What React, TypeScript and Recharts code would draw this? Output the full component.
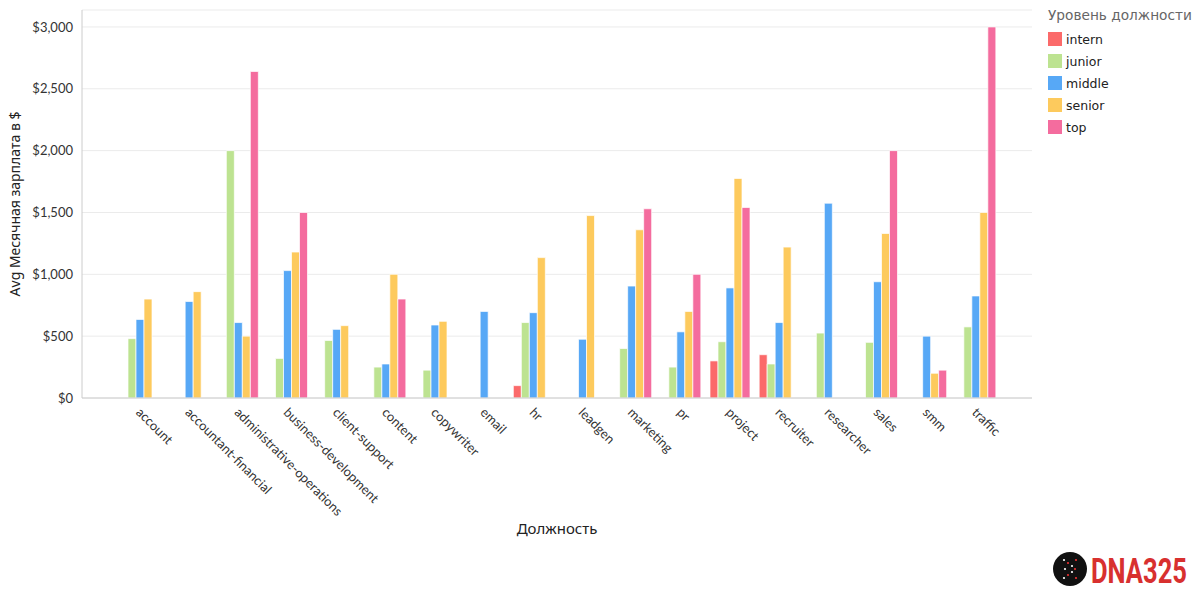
import { BarChart, Bar, XAxis, YAxis, CartesianGrid } from 'recharts'

// job categories along the x axis
const categories = [
  'account', 'accountant-financial', 'administrative-operations', 'business-development',
  'client-support', 'content', 'copywriter', 'email', 'hr', 'leadgen', 'marketing', 'pr',
  'project', 'recruiter', 'researcher', 'sales', 'smm', 'traffic',
]

// avg monthly salary per level, null = no data
const intern = [null, null, null, null, null, null, null, null, 100, null, null, null, 300, 350, null, null, null, null]
const junior = [480, null, 2000, 320, 465, 250, 225, null, 610, null, 400, 250, 455, 275, 525, 450, null, 575]
const middle = [635, 780, 610, 1030, 555, 275, 590, 700, 690, 475, 905, 535, 890, 610, 1575, 940, 500, 825]
const senior = [800, 860, 500, 1180, 585, 1000, 620, null, 1135, 1475, 1360, 700, 1775, 1220, null, 1330, 200, 1500]
const top = [null, null, 2640, 1500, null, 800, null, null, null, null, 1530, 1000, 1540, null, null, 2000, 225, 3000]

const yTicks = [0, 500, 1000, 1500, 2000, 2500, 3000]

const levels = [
  { key: 'intern', color: '#FB6A6A' },
  { key: 'junior', color: '#BDE391' },
  { key: 'middle', color: '#57A8F6' },
  { key: 'senior', color: '#FDCA5D' },
  { key: 'top', color: '#F46C9E' },
]

const data = categories.map((name, i) => ({
  name,
  intern: intern[i],
  junior: junior[i],
  middle: middle[i],
  senior: senior[i],
  top: top[i],
}))

const fmtMoney = (v: number) => '$' + v.toLocaleString('en-US')

const XTick = ({ x, y, payload }: any) => (
  <g transform={`translate(${x - 1},${y + 4}) rotate(45)`}>
    <text x={0} y={0} dy="0.35em" textAnchor="start" fontSize={13} fontFamily="Lato" fill="#333">
      {payload.value}
    </text>
  </g>
)

function Logo() {
  const dots = [
    [-6, -9, '#fff'], [-2, -6, '#e33'], [2, -3, '#fff'], [5, 0, '#e33'], [2, 3, '#fff'],
    [-2, 6, '#e33'], [-6, 9, '#fff'], [6, -9, '#e33'], [-5, 0, '#fff'], [6, 9, '#e33'],
  ]
  return (
    <svg width={148} height={44} style={{ position: 'absolute', left: 1050, top: 547 }}>
      <circle cx={20} cy={22} r={17} fill="#111" />
      {dots.map(([dx, dy, c], i) => (
        <circle key={i} cx={20 + (dx as number)} cy={22 + (dy as number)} r={1.1} fill={c as string} />
      ))}
      <text x={0} y={0} transform="translate(41,36) scale(1,1.4)" fontSize={25} fontWeight={700}
        fontFamily="Roboto" fill="#D8302F" textLength={96} lengthAdjust="spacingAndGlyphs">DNA325</text>
    </svg>
  )
}

export default function App() {
  return (
    <div style={{ position: 'absolute', left: 0, top: 0, width: 1200, height: 600, background: '#fff' }}>
      <BarChart
        width={1200}
        height={600}
        data={data}
        margin={{ top: 10, right: 168, left: 0, bottom: 0 }}
        barGap={0}
        barSize={8}
      >
        <CartesianGrid vertical={false} stroke="#EBEBEB" />
        <XAxis
          dataKey="name"
          height={202}
          padding={{ left: 33, right: 32 }}
          tickLine={false}
          axisLine={{ stroke: '#CCCCCC' }}
          tick={<XTick />}
          interval={0}
          label={{
            value: 'Должность', position: 'insideBottom', offset: 66,
            style: { fontSize: 15, fontFamily: 'Noto Sans', fill: '#222' },
          }}
        />
        <YAxis
          width={82}
          domain={[0, 3137]}
          ticks={yTicks}
          tickFormatter={fmtMoney}
          tickLine={false}
          axisLine={{ stroke: '#CCCCCC' }}
          tick={{ fontSize: 13, fontFamily: 'Lato', fill: '#333' }}
          tickMargin={3}
          label={{
            value: 'Avg Месячная зарплата в $', angle: -90, position: 'insideLeft', offset: 15,
            style: { textAnchor: 'middle', fontSize: 14, fontFamily: 'Noto Sans', fill: '#222' },
          }}
        />
        {levels.map(l => (
          <Bar key={l.key} dataKey={l.key} fill={l.color} stroke="#fff" strokeWidth={0.7}
            isAnimationActive={false} />
        ))}
      </BarChart>

      <div style={{ position: 'absolute', left: 1048, top: 7, fontFamily: 'DejaVu Sans' }}>
        <div style={{ fontSize: 13.7, color: '#666', marginBottom: 5 }}>Уровень должности</div>
        {levels.map(l => (
          <div key={l.key} style={{ display: 'flex', alignItems: 'center', height: 22 }}>
            <span style={{ width: 14, height: 14, background: l.color, marginRight: 4 }} />
            <span style={{ fontSize: 12.5, color: '#222' }}>{l.key}</span>
          </div>
        ))}
      </div>

      <Logo />
    </div>
  )
}
